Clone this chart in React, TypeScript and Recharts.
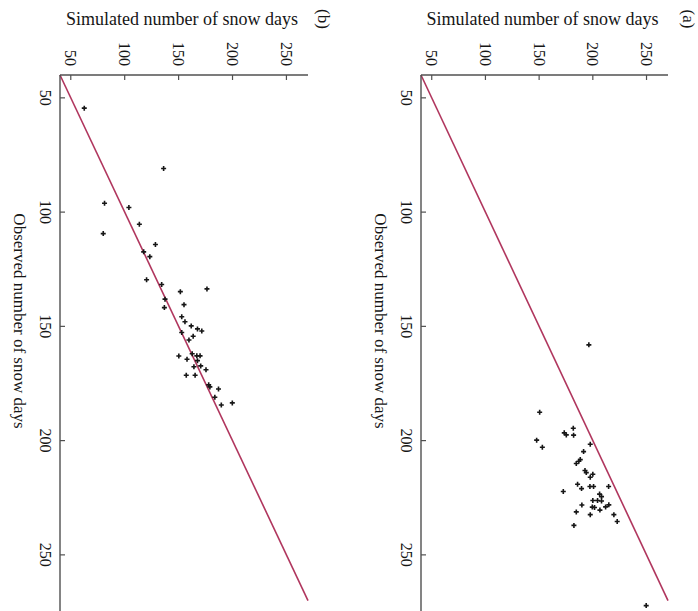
import React from "react";
import { ScatterChart, Scatter, XAxis, YAxis, ReferenceLine, Label } from "recharts";

const FONT = '"Liberation Serif", "Times New Roman", serif';

// panel (a): observed vs simulated snow days
const obsA = [
  158.1, 187.6, 194.6, 196.6, 197.5, 197.6, 199.8, 201.6, 202.9, 204.8,
  208.3, 209, 210, 213.1, 214, 214.7, 216, 219.1, 221, 220.1,
  220.1, 220.1, 222.3, 223.4, 224.5, 226.2, 226.2, 226.4, 228.2, 229.1,
  229.3, 229, 228.1, 230.4, 231.2, 232.4, 232.4, 235.4, 237.1, 272.2,
];
const simA = [
  196.3, 150.5, 181.8, 173.4, 175.3, 182.1, 147.7, 197.6, 153, 191.4,
  188.3, 187, 184.6, 192.7, 193.9, 200, 197.6, 185.8, 189.5, 197.3,
  200.7, 214.7, 172.5, 206.3, 208.1, 200, 204.4, 208.1, 189.8, 199.5,
  201.6, 211.9, 214.9, 206.6, 184.6, 197.6, 219.6, 222.7, 182.4, 249.7,
];

// panel (b)
const obsB = [
  54.5, 80.9, 96.1, 98, 105.3, 109.4, 114.2, 117.4, 119.5, 129.6,
  131.7, 134.8, 133.6, 138.1, 141.8, 140.5, 145.8, 148, 149.8, 151.1,
  152, 152.7, 154.3, 156, 162, 162.9, 162.9, 163, 164.4, 165,
  167.3, 167.7, 169, 171.4, 171.4, 175.6, 176.5, 177.4, 181, 184.4,
  183.5,
];
const simB = [
  62.5, 136.1, 81.3, 103.9, 113.6, 80.1, 128.5, 117.6, 123.3, 120.3,
  134.3, 151.6, 176.3, 137.4, 136.8, 155, 152.9, 155.9, 161.7, 167.5,
  171.5, 152.9, 163.5, 159.6, 162.6, 166.9, 169.9, 150.2, 157.8, 167.5,
  170.5, 164.2, 175.4, 157.1, 165.3, 177.9, 179, 187, 183.6, 189.6,
  199.8,
];

const axisTicks = [50, 100, 150, 200, 250];
const simDomain = [40, 270];
const obsDomain = [40, 275];
const oneToOne = [40, 270];
const simTitle = "Simulated number of snow days";
const obsTitle = "Observed number of snow days";

const AXIS = "#505050";
const INK = "#161616";
const LINE = "#b0365e";

function TopTick({ x, y, payload }: any) {
  const ty = y - 9;
  return (
    <g>
      <line x1={x} y1={y} x2={x} y2={y + 5} stroke={AXIS} strokeWidth={1.2} />
      <text
        x={x}
        y={ty}
        transform={`rotate(90, ${x}, ${ty})`}
        textAnchor="end"
        dominantBaseline="central"
        fontSize={16}
        fill={INK}
        fontFamily={FONT}
      >
        {payload.value}
      </text>
    </g>
  );
}

function LeftTick({ x, y, payload }: any) {
  const tx = x - 15;
  return (
    <g>
      <line x1={x} y1={y} x2={x + 5} y2={y} stroke={AXIS} strokeWidth={1.2} />
      <text
        x={tx}
        y={y}
        transform={`rotate(90, ${tx}, ${y})`}
        textAnchor="middle"
        dominantBaseline="central"
        fontSize={16}
        fill={INK}
        fontFamily={FONT}
      >
        {payload.value}
      </text>
    </g>
  );
}

function Plus({ cx, cy }: any) {
  if (cx == null || cy == null) return null;
  return (
    <path
      d={`M${cx - 2.5},${cy}H${cx + 2.5}M${cx},${cy - 2.5}V${cy + 2.5}`}
      stroke={INK}
      strokeWidth={1.6}
    />
  );
}

function Panel({ obs, sim, letter, yWidth, right, letterX }: any) {
  const data = obs.map((o: number, i: number) => ({ obs: o, sim: sim[i] }));

  const simLabel = (p: any) => {
    const vb = p.viewBox || {};
    return (
      <g>
        <text
          x={vb.x + vb.width / 2 - 2}
          y={19}
          textAnchor="middle"
          dominantBaseline="central"
          fontSize={18}
          fill={INK}
          fontFamily={FONT}
        >
          {simTitle}
        </text>
        <text
          x={letterX}
          y={19}
          transform={`rotate(90, ${letterX}, 19)`}
          textAnchor="middle"
          dominantBaseline="central"
          fontSize={17}
          fill={INK}
          fontFamily={FONT}
        >
          ({letter})
        </text>
      </g>
    );
  };

  const obsLabel = (p: any) => {
    const vb = p.viewBox || {};
    const lx = vb.x + yWidth - 41;
    const ly = 321;
    return (
      <text
        x={lx}
        y={ly}
        transform={`rotate(90, ${lx}, ${ly})`}
        textAnchor="middle"
        dominantBaseline="central"
        fontSize={17}
        fill={INK}
        fontFamily={FONT}
      >
        {obsTitle}
      </text>
    );
  };

  return (
    <ScatterChart width={349} height={620} margin={{ top: 0, right, bottom: 8, left: 0 }}>
      <XAxis
        type="number"
        dataKey="sim"
        orientation="top"
        height={75}
        domain={simDomain}
        ticks={axisTicks}
        allowDataOverflow
        tick={<TopTick />}
        tickLine={false}
        tickSize={0}
        tickMargin={0}
        axisLine={{ stroke: AXIS, strokeWidth: 1.4 }}
        label={<Label content={simLabel} />}
      />
      <YAxis
        type="number"
        dataKey="obs"
        orientation="left"
        reversed
        width={yWidth}
        domain={obsDomain}
        ticks={axisTicks}
        allowDataOverflow
        tick={<LeftTick />}
        tickLine={false}
        tickSize={0}
        tickMargin={0}
        axisLine={{ stroke: AXIS, strokeWidth: 1.4 }}
        label={<Label content={obsLabel} />}
      />
      <ReferenceLine
        segment={[
          { x: oneToOne[0], y: oneToOne[0] },
          { x: oneToOne[1], y: oneToOne[1] },
        ]}
        stroke={LINE}
        strokeWidth={1.6}
        ifOverflow="visible"
      />
      <Scatter data={data} shape={<Plus />} isAnimationActive={false} />
    </ScatterChart>
  );
}

export default function App() {
  return (
    <div
      style={{
        position: "absolute",
        left: 0,
        top: 0,
        width: 698,
        height: 611,
        overflow: "hidden",
        background: "#fff",
        fontFamily: FONT,
      }}
    >
      <div style={{ position: "absolute", left: 0, top: 0 }}>
        <Panel obs={obsB} sim={simB} letter="b" yWidth={60} right={41} letterX={323} />
      </div>
      <div style={{ position: "absolute", left: 349, top: 0 }}>
        <Panel obs={obsA} sim={simA} letter="a" yWidth={72} right={30} letterX={339} />
      </div>
    </div>
  );
}
